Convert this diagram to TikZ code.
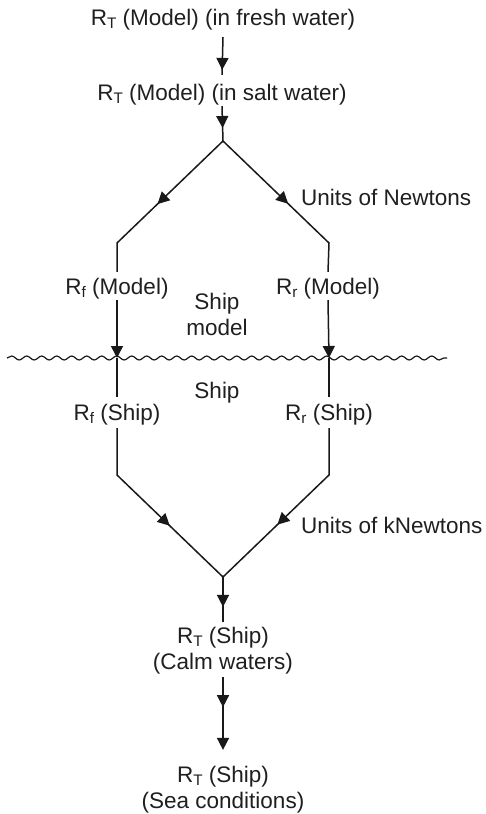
\documentclass[tikz,border=0pt]{standalone}
\usepackage{fontspec}
\setmainfont{Liberation Sans}
\usetikzlibrary{arrows.meta,decorations.markings,decorations.pathmorphing}
\newcommand\lowsub[1]{\raisebox{-0.28ex}{\fontsize{15.3}{15.3}\selectfont #1}}
\begin{document}
\begin{tikzpicture}[x=1pt,y=-1pt,
  lbl/.style={inner sep=0pt, font=\fontsize{22.5}{26}\selectfont, align=center, text=black!88},
  conn/.style={line width=1.5pt, draw=black!90},
  tipend/.style={-{Triangle[length=12pt,width=12pt]}},
  midarrow/.style={postaction={decorate,decoration={markings,
     mark=at position #1 with {\arrow{Triangle[length=12pt,width=12pt]}}}}},
  wave/.style={line width=1.2pt, draw=black!90, decorate,
     decoration={snake,segment length=15pt,amplitude=2pt}}]
\useasboundingbox (0,0) rectangle (485,814);

% text nodes (base anchor = baseline of the last line)
\node[lbl, anchor=base] (t1) at (223,25) {R\lowsub{T} (Model) (in fresh water)};
\node[lbl, anchor=base] (t2) at (222,100) {R\lowsub{T} (Model) (in salt water)};
\node[lbl, anchor=base] (rfm) at (117,294) {R\lowsub{f} (Model)};
\node[lbl, anchor=base] (rrm) at (328,294) {R\lowsub{r} (Model)};
\node[lbl, anchor=base] (rfs) at (117,420) {R\lowsub{f} (Ship)};
\node[lbl, anchor=base] (rrs) at (329,420) {R\lowsub{r} (Ship)};
\node[lbl, anchor=base] (shipmodel) at (217,335) {Ship\\model};
\node[lbl, anchor=base] (ship) at (217,398) {Ship};
\node[lbl, anchor=base west] (newtons) at (301,205) {Units of Newtons};
\node[lbl, anchor=base west] (knewtons) at (301,533) {Units of kNewtons};
\node[lbl, anchor=base] (t3) at (223,669) {R\lowsub{T} (Ship)\\(Calm waters)};
\node[lbl, anchor=base] (t4) at (223,808) {R\lowsub{T} (Ship)\\(Sea conditions)};

% junction points
\coordinate (apex) at (223,141);
\coordinate (lb1) at (117,243);
\coordinate (rb1) at (329,243);
\coordinate (lw) at (117,358);
\coordinate (rw) at (329,358);
\coordinate (wl) at (7,358);
\coordinate (wr) at (447,358);
\coordinate (lb2) at (117,475);
\coordinate (rb2) at (329,475);
\coordinate (apex2) at (223,577);

% water line
\draw[wave] (wl) -- (wr);

% connectors
\draw[conn, midarrow=-5pt] ([yshift=-7.3pt]t1.south) -- ([yshift=8.6pt]t2.north);
\draw[conn, midarrow=-13pt] ([yshift=-1.3pt]t2.south) -- (apex);

\draw[conn, midarrow=91pt, line join=miter] (apex) -- (lb1) -- ([yshift=5.6pt]rfm.north);
\draw[conn, midarrow=90.5pt, line join=miter] (apex) -- (rb1) -- ([yshift=5.6pt]rrm.north);

\draw[conn, tipend] ([yshift=-1.3pt]rfm.south) -- (lw);
\draw[conn, tipend] ([yshift=-1.3pt]rrm.south) -- (rw);
\draw[conn] (lw) -- ([yshift=6.6pt]rfs.north);
\draw[conn] (rw) -- ([yshift=6.6pt]rrs.north);

\draw[conn, midarrow=120pt, line join=miter] ([yshift=-3.3pt]rfs.south) -- (lb2) -- (apex2);
\draw[conn, midarrow=118.5pt, line join=miter] ([yshift=-3.3pt]rrs.south) -- (rb2) -- (apex2);

\draw[conn, midarrow=-15pt] (apex2) -- ([yshift=4.6pt]t3.north);
\draw[conn, tipend, midarrow=30pt] ([yshift=-3.3pt]t3.south) -- ([yshift=15.6pt]t4.north);
\end{tikzpicture}
\end{document}
